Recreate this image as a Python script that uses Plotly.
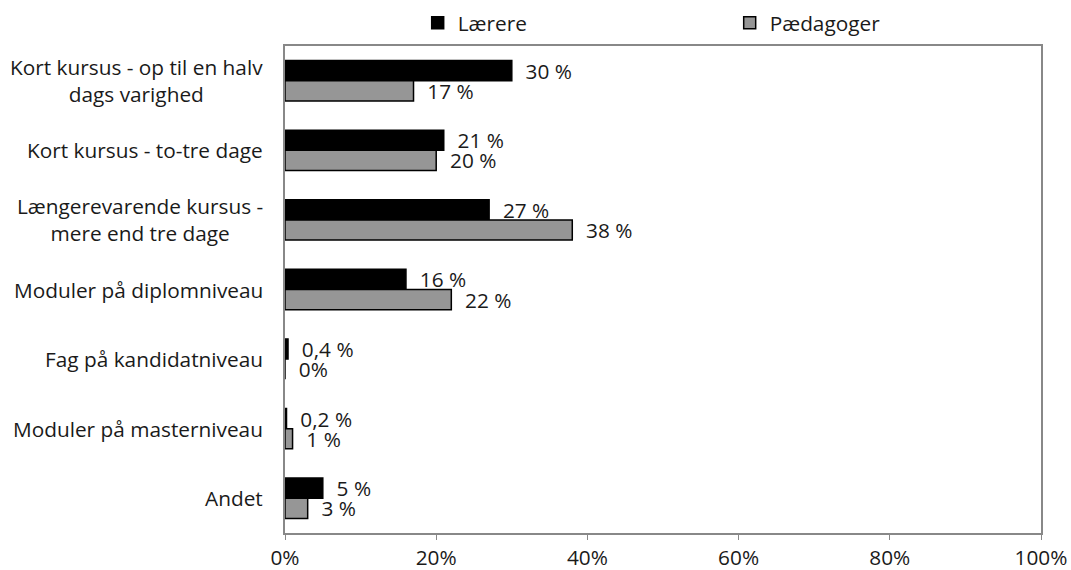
import plotly.graph_objects as go

categories = [
    "Kort kursus - op til en halv<br>dags varighed",
    "Kort kursus - to-tre dage",
    "Længerevarende kursus -<br>mere end tre dage",
    "Moduler på diplomniveau",
    "Fag på kandidatniveau",
    "Moduler på masterniveau",
    "Andet",
]
laerere = [30, 21, 27, 16, 0.4, 0.2, 5]
paedagoger = [17, 20, 38, 22, 0, 1, 3]
x_ticks = [0, 20, 40, 60, 80, 100]
x_tick_labels = ["0%", "20%", "40%", "60%", "80%", "100%"]

FONT = "Open Sans, Noto Sans, sans-serif"
FS = 20.8
TEXT_COLOR = "#1a1a1a"
PAD = "\u00a0\u00a0"


def pct_label(v):
    if v == 0:
        return "0%"
    return f"{v:g} %".replace(".", ",")


def font():
    return dict(family=FONT, size=FS, color=TEXT_COLOR)


fig = go.Figure()
fig.add_trace(go.Bar(
    name="Lærere", y=categories, x=laerere, orientation="h",
    marker=dict(color="#000000", line=dict(color="#000000", width=1.5)),
    text=[PAD + pct_label(v) for v in laerere], textposition="outside",
    textfont=font(),
    cliponaxis=False,
))
fig.add_trace(go.Bar(
    name="Pædagoger", y=categories, x=paedagoger, orientation="h",
    marker=dict(color="#969696", line=dict(color="#000000", width=1.5)),
    text=[PAD + pct_label(v) for v in paedagoger], textposition="outside",
    textfont=font(),
    cliponaxis=False,
))

# category labels, centred line by line
for c in categories:
    fig.add_annotation(
        x=0, xref="paper", xanchor="right", xshift=-20,
        y=c, yref="y", yanchor="middle",
        text=c, align="center", showarrow=False,
        font=font(),
    )

fig.update_layout(
    width=1071, height=570,
    paper_bgcolor="white", plot_bgcolor="white",
    margin=dict(l=285, r=30, t=46, b=37, autoexpand=False),
    barmode="group", bargap=0.42, bargroupgap=0,
    font=font(),
    showlegend=True,
    legend=dict(
        orientation="h", xref="container", x=0.39, xanchor="left",
        yref="container", y=0.995, yanchor="top",
        entrywidth=267, entrywidthmode="pixels",
        font=font(),
        itemwidth=30, traceorder="normal",
    ),
    xaxis=dict(
        range=[0, 100], tickvals=x_ticks, ticktext=x_tick_labels,
        showgrid=False, zeroline=False,
        showline=True, linecolor="#888888", linewidth=2, mirror=True,
        ticks="outside", ticklen=5, tickcolor="#888888", tickwidth=1,
        tickfont=font(),
        fixedrange=True,
    ),
    yaxis=dict(
        autorange="reversed", showticklabels=False, ticks="",
        showgrid=False, zeroline=False,
        showline=True, linecolor="#888888", linewidth=2, mirror=True,
        fixedrange=True,
    ),
)
fig.update_traces(constraintext="none")

fig.write_html("out.html")
